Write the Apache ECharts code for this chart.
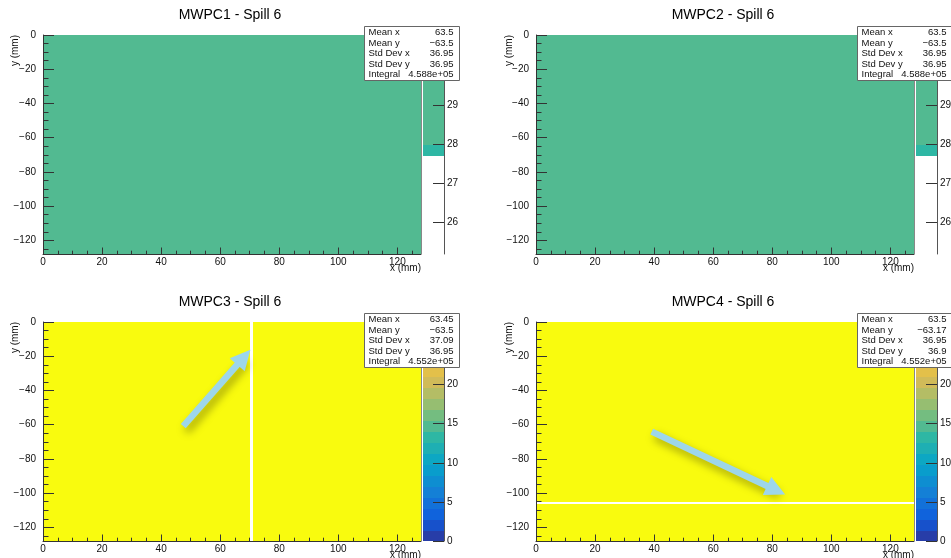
<!DOCTYPE html>
<html>
<head>
<meta charset="utf-8">
<title>MWPC beam profiles - Spill 6</title>
<script src="https://cdn.jsdelivr.net/npm/echarts@6.0.0/dist/echarts.min.js"></script>
<style>
  html, body { margin: 0; padding: 0; background: #fff; }
  #chart { width: 951px; height: 558px; }
</style>
</head>
<body>
<div id="chart"></div>
<script>
var nBins = 128;
var xRange = [0, 128];
var yRange = [-128, 0];
var titles = ['MWPC1 - Spill 6', 'MWPC2 - Spill 6', 'MWPC3 - Spill 6', 'MWPC4 - Spill 6'];
var binContent = [28, 28, 28, 28];          // hits per wire pair, flat profile
var deadColumn = [null, null, 70, null];    // x bin (low edge) with no hits
var deadRow = [null, null, null, -106];     // y bin (low edge) with no hits
var zRanges = [[25.2, 30.8], [25.2, 30.8], [0, 28], [0, 28]];
var nContours = 20;
var flatPalette = [[27.72, 28.0, 9], [28.0, 30.8, 10]];   // [from, to, contour]
var paletteTicks = [[26, 27, 28, 29], [26, 27, 28, 29], [0, 5, 10, 15, 20], [0, 5, 10, 15, 20]];
var xTicks = [0, 20, 40, 60, 80, 100, 120];
var yTicks = [0, -20, -40, -60, -80, -100, -120];
var statNames = ['Mean x', 'Mean y', 'Std Dev x', 'Std Dev y', 'Integral'];
var statValues = [
    ['63.5', '\u221263.5', '36.95', '36.95', '4.588e+05'],
    ['63.5', '\u221263.5', '36.95', '36.95', '4.588e+05'],
    ['63.45', '\u221263.5', '37.09', '36.95', '4.552e+05'],
    ['63.5', '\u221263.17', '36.95', '36.9', '4.552e+05']
];
// hand-drawn arrows pointing at the dead wires: [tail, head] in mm
var arrows = [null, null, [[47.5, -60.8], [68.0, -20.6]], [[39.2, -64.1], [81.3, -98.3]]];

// ---- layout ----
var plotW = 378, plotH = 219;
var plotPos = [[43, 35], [536, 35], [43, 322], [536, 322]];
var font = 'Liberation Sans, Arial, Helvetica, sans-serif';

// ROOT kBird palette
var birdStops = [0.0, 0.125, 0.25, 0.375, 0.5, 0.625, 0.75, 0.875, 1.0];
var birdR = [0.2082, 0.0592, 0.0780, 0.0232, 0.1802, 0.5301, 0.8186, 0.9956, 0.9764];
var birdG = [0.1664, 0.3599, 0.5041, 0.6419, 0.7178, 0.7492, 0.7328, 0.7862, 0.9832];
var birdB = [0.5293, 0.8684, 0.8385, 0.7914, 0.6425, 0.4662, 0.3499, 0.1968, 0.0539];

function bird(t) {
    var i = 0;
    while (i < birdStops.length - 2 && t > birdStops[i + 1]) i++;
    var f = (t - birdStops[i]) / (birdStops[i + 1] - birdStops[i]);
    function c(a) { return Math.round(255 * (a[i] + f * (a[i + 1] - a[i]))); }
    return 'rgb(' + c(birdR) + ',' + c(birdG) + ',' + c(birdB) + ')';
}
function contourColor(k) {
    var idx = Math.floor((k + 0.99) * 255 / nContours);
    return bird(Math.min(idx, 254) / 254);
}
function contourOf(v, z) {
    var k = Math.floor((v - z[0]) / (z[1] - z[0]) * nContours + 1e-6);
    return Math.max(0, Math.min(nContours - 1, k));
}
function minus(v) { return v < 0 ? '\u2212' + (-v) : String(v); }
function px(v) { return Math.ceil(v - 0.01); }

// 128 x 128 bins per chamber, merged into runs of equal content along x
function buildCells(p) {
    var cells = [];
    for (var j = 0; j < nBins; j++) {
        var yLow = yRange[0] + j;
        var row = [];
        for (var i = 0; i < nBins; i++) {
            var xLow = xRange[0] + i;
            row.push(xLow === deadColumn[p] || yLow === deadRow[p] ? 0 : binContent[p]);
        }
        var start = 0;
        for (var i = 1; i <= nBins; i++) {
            if (i === nBins || row[i] !== row[start]) {
                if (row[start] > 0) cells.push([xRange[0] + start, xRange[0] + i, yLow, yLow + 1, row[start]]);
                start = i;
            }
        }
    }
    return cells;
}

function rangeStep(a, b, s) {
    var out = [];
    for (var v = a; s > 0 ? v <= b : v >= b; v += s) out.push(v);
    return out;
}
var xMinor = rangeStep(0, 125, 5);
var yMinor = rangeStep(0, -125, -5);

var chart = echarts.init(document.getElementById('chart'));

var grid = [], xAxis = [], yAxis = [], series = [], title = [], graphic = [];
var tickColor = '#333';

function txt(x, y, s, align, size, extra) {
    var el = {
        type: 'text', x: x, y: y, z: 100, silent: true,
        style: { text: s, align: align, verticalAlign: 'middle', fontSize: size, fill: '#111', fontFamily: font }
    };
    if (extra) for (var k in extra) el[k] = extra[k];
    return el;
}

titles.forEach(function (t, p) {
    var L = plotPos[p][0], T = plotPos[p][1];
    var z = zRanges[p];

    title.push({
        text: t, left: L + plotW / 2 - 7, top: T - 32, textAlign: 'center',
        textStyle: { fontSize: 14, fontWeight: 'normal', color: '#000', fontFamily: font }
    });

    // main plot grid
    var g = grid.length;
    grid.push({ left: L, top: T, width: plotW, height: plotH, outerBoundsMode: 'none', containLabel: false });
    var xi = xAxis.length;
    xAxis.push({
        type: 'value', gridIndex: g, min: xRange[0], max: xRange[1], position: 'bottom', z: 5,
        splitLine: { show: false },
        axisLine: { show: true, onZero: false, lineStyle: { color: '#333', width: 1 } },
        axisTick: { show: true, inside: true, length: 6.5, customValues: xTicks, lineStyle: { color: tickColor } },
        axisLabel: { customValues: xTicks, formatter: minus, fontSize: 10, color: '#111', margin: 3, fontFamily: font }
    });
    // minor ticks: a 'top' axis shifted down onto the bottom edge, ticks pointing up
    xAxis.push({
        type: 'value', gridIndex: g, min: xRange[0], max: xRange[1], position: 'top', offset: -plotH, z: 5,
        splitLine: { show: false }, axisLine: { show: false, onZero: false }, axisLabel: { show: false },
        axisTick: { show: true, inside: false, length: 3.3, customValues: xMinor, lineStyle: { color: tickColor } }
    });
    var yi = yAxis.length;
    yAxis.push({
        type: 'value', gridIndex: g, min: yRange[0], max: yRange[1], position: 'left', z: 5,
        splitLine: { show: false },
        axisLine: { show: true, onZero: false, lineStyle: { color: '#333', width: 1 } },
        axisTick: { show: true, inside: true, length: 11, customValues: yTicks, lineStyle: { color: tickColor } },
        axisLabel: { customValues: yTicks, formatter: minus, fontSize: 10, color: '#111', margin: 7, fontFamily: font }
    });
    // minor ticks: a 'right' axis shifted onto the left edge, ticks pointing right
    yAxis.push({
        type: 'value', gridIndex: g, min: yRange[0], max: yRange[1], position: 'right', offset: -plotW, z: 5,
        splitLine: { show: false }, axisLine: { show: false, onZero: false }, axisLabel: { show: false },
        axisTick: { show: true, inside: false, length: 5.5, customValues: yMinor, lineStyle: { color: tickColor } }
    });

    series.push({
        type: 'custom', xAxisIndex: xi, yAxisIndex: yi, data: buildCells(p), silent: true, z: 0,
        renderItem: function (params, api) {
            var a = api.coord([api.value(0), api.value(3)]);
            var b = api.coord([api.value(1), api.value(2)]);
            var x0 = px(a[0]), y0 = px(a[1]), x1 = px(b[0]), y1 = px(b[1]);
            return {
                type: 'rect', shape: { x: x0, y: y0, width: x1 - x0, height: y1 - y0 },
                style: { fill: contourColor(contourOf(api.value(4), z)) }
            };
        }
    });

    if (arrows[p]) {
        series.push({
            type: 'lines', coordinateSystem: 'cartesian2d', xAxisIndex: xi, yAxisIndex: yi,
            polyline: false, silent: true, z: 10,
            symbol: ['none', 'triangle'], symbolSize: 20,
            lineStyle: {
                color: '#9dd6ea', width: 6.5, opacity: 1,
                shadowColor: 'rgba(0,0,0,0.35)', shadowBlur: 9, shadowOffsetX: 3, shadowOffsetY: 5
            },
            data: [{ coords: arrows[p] }]
        });
    }

    // colour palette
    var pg = grid.length;
    grid.push({ left: L + 380, top: T, width: 21, height: plotH, outerBoundsMode: 'none', containLabel: false });
    var pxi = xAxis.length;
    xAxis.push({ type: 'value', gridIndex: pg, min: 0, max: 1, show: false });
    var pyi = yAxis.length;
    yAxis.push({
        type: 'value', gridIndex: pg, min: z[0], max: z[1], position: 'right', z: 5,
        splitLine: { show: false },
        axisLine: { show: true, onZero: false, lineStyle: { color: '#555', width: 1 } },
        axisTick: { show: true, inside: true, length: 11, customValues: paletteTicks[p], lineStyle: { color: tickColor } },
        axisLabel: { customValues: paletteTicks[p], fontSize: 10, color: '#111', margin: 3, fontFamily: font }
    });
    var bands = [];
    if (z[0] === 0) {
        var w = (z[1] - z[0]) / nContours;
        for (var k = 0; k < nContours; k++) bands.push([z[0] + k * w, z[0] + (k + 1) * w, k]);
    } else {
        bands = flatPalette;
    }
    series.push({
        type: 'custom', xAxisIndex: pxi, yAxisIndex: pyi, data: bands, silent: true, z: 0,
        renderItem: function (params, api) {
            var a = api.coord([0, api.value(1)]);
            var b = api.coord([1, api.value(0)]);
            var x0 = px(a[0]), y0 = px(a[1]), x1 = px(b[0]), y1 = px(b[1]);
            return {
                type: 'rect', shape: { x: x0, y: y0, width: x1 - x0, height: y1 - y0 },
                style: { fill: contourColor(api.value(2)) }
            };
        }
    });

    // right edge of the frame
    graphic.push({
        type: 'line', z: 6, silent: true,
        shape: { x1: L + plotW + 0.5, y1: T, x2: L + plotW + 0.5, y2: T + plotH },
        style: { stroke: '#888', lineWidth: 1 }
    });

    // axis titles
    graphic.push(txt(L + plotW, T + plotH + 14, 'x (mm)', 'right', 10));
    graphic.push(txt(p % 2 === 0 ? 15 : L - 27, T, 'y (mm)', 'right', 10, { rotation: Math.PI / 2 }));

    // statistics box
    var bx = L + 321.5, by = T - 8.5;
    graphic.push({
        type: 'rect', x: bx, y: by, z: 99, silent: true,
        shape: { x: 0, y: 0, width: 95, height: 54 },
        style: { fill: '#fff', stroke: '#666', lineWidth: 1 }
    });
    statNames.forEach(function (n, r) {
        var ty = by + 6 + r * 10.5;
        graphic.push(txt(bx + 4, ty, n, 'left', 9.5));
        graphic.push(txt(bx + 89, ty, statValues[p][r], 'right', 9.5));
    });
});

chart.setOption({
    animation: false,
    title: title,
    grid: grid,
    xAxis: xAxis,
    yAxis: yAxis,
    series: series,
    graphic: { elements: graphic }
});
</script>
</body>
</html>
